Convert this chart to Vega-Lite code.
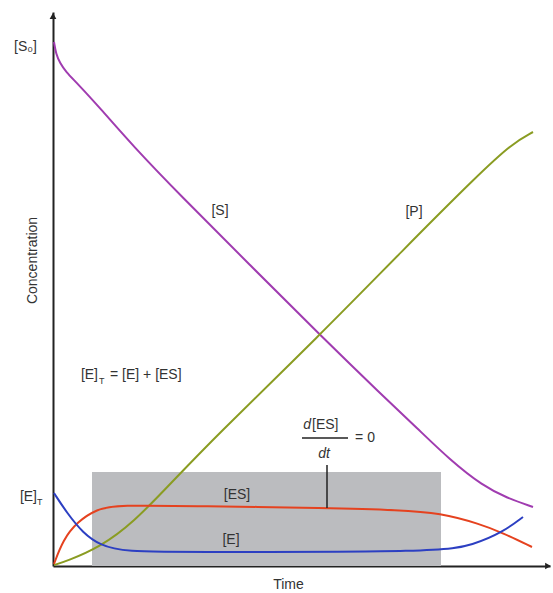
{
  "$schema": "https://vega.github.io/schema/vega-lite/v6.json",
  "width": 497,
  "height": 554,
  "autosize": {"type": "none"},
  "padding": {"left": 53, "top": 12, "right": 3, "bottom": 27},
  "background": "white",
  "config": {
    "view": {"stroke": null},
    "font": "Liberation Sans",
    "axis": {
      "ticks": false,
      "labels": false,
      "grid": false,
      "domainColor": "#222222",
      "domainWidth": 2,
      "titleFont": "Liberation Sans",
      "titleFontSize": 14,
      "titleFontWeight": "normal",
      "titleColor": "#333333"
    },
    "text": {"font": "Liberation Sans", "fontSize": 14, "color": "#333333"}
  },
  "datasets": {
    "curves": [
      {"series": "S", "t": 1, "c": 524},
      {"series": "S", "t": 3, "c": 512},
      {"series": "S", "t": 7, "c": 503},
      {"series": "S", "t": 13, "c": 494},
      {"series": "S", "t": 24, "c": 483},
      {"series": "S", "t": 47, "c": 458},
      {"series": "S", "t": 80, "c": 420},
      {"series": "S", "t": 127, "c": 371},
      {"series": "S", "t": 197, "c": 301},
      {"series": "S", "t": 267, "c": 231},
      {"series": "S", "t": 330, "c": 170},
      {"series": "S", "t": 364, "c": 138},
      {"series": "S", "t": 397, "c": 106},
      {"series": "S", "t": 430, "c": 80},
      {"series": "S", "t": 454, "c": 68},
      {"series": "S", "t": 480, "c": 59},
      {"series": "P", "t": 1, "c": 1},
      {"series": "P", "t": 14, "c": 5},
      {"series": "P", "t": 47, "c": 19},
      {"series": "P", "t": 80, "c": 43},
      {"series": "P", "t": 120, "c": 85},
      {"series": "P", "t": 160, "c": 127},
      {"series": "P", "t": 267, "c": 231},
      {"series": "P", "t": 350, "c": 316},
      {"series": "P", "t": 427, "c": 393},
      {"series": "P", "t": 460, "c": 423},
      {"series": "P", "t": 480, "c": 434},
      {"series": "ES", "t": 1, "c": 2},
      {"series": "ES", "t": 10, "c": 26},
      {"series": "ES", "t": 24, "c": 44},
      {"series": "ES", "t": 44, "c": 57},
      {"series": "ES", "t": 64, "c": 61},
      {"series": "ES", "t": 147, "c": 60},
      {"series": "ES", "t": 274, "c": 58},
      {"series": "ES", "t": 347, "c": 56},
      {"series": "ES", "t": 387, "c": 53},
      {"series": "ES", "t": 427, "c": 42},
      {"series": "ES", "t": 450, "c": 33},
      {"series": "ES", "t": 479, "c": 19},
      {"series": "E", "t": 1, "c": 73},
      {"series": "E", "t": 14, "c": 53},
      {"series": "E", "t": 30, "c": 33},
      {"series": "E", "t": 47, "c": 21},
      {"series": "E", "t": 70, "c": 14},
      {"series": "E", "t": 147, "c": 14},
      {"series": "E", "t": 387, "c": 14},
      {"series": "E", "t": 420, "c": 21},
      {"series": "E", "t": 450, "c": 34},
      {"series": "E", "t": 470, "c": 49}
    ],
    "labels": [
      {"t": 167, "c": 355, "label": "[S]"},
      {"t": 361, "c": 354, "label": "[P]"},
      {"t": 184, "c": 71, "label": "[ES]"},
      {"t": 178, "c": 26, "label": "[E]"},
      {"t": 312, "c": 128, "label": "= 0"}
    ]
  },
  "layer": [
    {
      "data": {"values": [{"t0": 39, "t1": 388, "c0": 0, "c1": 94}]},
      "mark": {"type": "rect", "fill": "#bbbcbf"},
      "encoding": {
        "x": {
          "field": "t0", "type": "quantitative",
          "scale": {"domain": [0, 497], "nice": false, "zero": false},
          "axis": {"title": "Time", "titleX": 235, "titleY": 18, "titleBaseline": "middle", "titleAlign": "center"}
        },
        "x2": {"field": "t1"},
        "y": {
          "field": "c0", "type": "quantitative",
          "scale": {"domain": [0, 554], "nice": false, "zero": false},
          "axis": {"title": "Concentration", "titleX": -21, "titleY": 248, "titleAngle": 270, "titleBaseline": "middle", "titleAlign": "center"}
        },
        "y2": {"field": "c1"}
      }
    },
    {
      "data": {"name": "curves"},
      "mark": {"type": "line", "strokeWidth": 2, "interpolate": "basis"},
      "encoding": {
        "x": {"field": "t", "type": "quantitative", "scale": {"domain": [0, 497], "nice": false, "zero": false}, "title": "Time"},
        "y": {"field": "c", "type": "quantitative", "scale": {"domain": [0, 554], "nice": false, "zero": false}, "title": "Concentration"},
        "color": {
          "field": "series", "type": "nominal", "legend": null,
          "scale": {"domain": ["S", "P", "ES", "E"], "range": ["#a03cb0", "#8a9c22", "#e5421f", "#2c3fc2"]}
        }
      }
    },
    {
      "data": {"values": [{"t0": 249, "t1": 295, "c0": 128, "c1": 128}, {"t0": 274, "t1": 274, "c0": 58, "c1": 101}]},
      "mark": {"type": "rule", "color": "#222222", "strokeWidth": 1.5},
      "encoding": {
        "x": {"field": "t0", "type": "quantitative", "title": "Time"},
        "x2": {"field": "t1"},
        "y": {"field": "c0", "type": "quantitative", "title": "Concentration"},
        "y2": {"field": "c1"}
      }
    },
    {
      "data": {"name": "labels"},
      "mark": {"type": "text", "align": "center", "baseline": "middle"},
      "encoding": {
        "x": {"field": "t", "type": "quantitative", "title": "Time"},
        "y": {"field": "c", "type": "quantitative", "title": "Concentration"},
        "text": {"field": "label"}
      }
    },
    {
      "data": {"values": [{"t": 258, "c": 141, "label": "d"}]},
      "mark": {"type": "text", "align": "right", "baseline": "middle", "fontStyle": "italic"},
      "encoding": {
        "x": {"field": "t", "type": "quantitative", "title": "Time"},
        "y": {"field": "c", "type": "quantitative", "title": "Concentration"},
        "text": {"field": "label"}
      }
    },
    {
      "data": {"values": [{"t": 259, "c": 141, "label": "[ES]"}]},
      "mark": {"type": "text", "align": "left", "baseline": "middle"},
      "encoding": {
        "x": {"field": "t", "type": "quantitative", "title": "Time"},
        "y": {"field": "c", "type": "quantitative", "title": "Concentration"},
        "text": {"field": "label"}
      }
    },
    {
      "data": {"values": [{"t": 271, "c": 112, "label": "dt"}]},
      "mark": {"type": "text", "align": "center", "baseline": "middle", "fontStyle": "italic"},
      "encoding": {
        "x": {"field": "t", "type": "quantitative", "title": "Time"},
        "y": {"field": "c", "type": "quantitative", "title": "Concentration"},
        "text": {"field": "label"}
      }
    },
    {
      "data": {"values": [{"t": 45, "c": 191, "label": "[E]"}]},
      "mark": {"type": "text", "align": "right", "baseline": "middle"},
      "encoding": {
        "x": {"field": "t", "type": "quantitative", "title": "Time"},
        "y": {"field": "c", "type": "quantitative", "title": "Concentration"},
        "text": {"field": "label"}
      }
    },
    {
      "data": {"values": [{"t": 57, "c": 191, "label": "= [E] + [ES]"}]},
      "mark": {"type": "text", "align": "left", "baseline": "middle"},
      "encoding": {
        "x": {"field": "t", "type": "quantitative", "title": "Time"},
        "y": {"field": "c", "type": "quantitative", "title": "Concentration"},
        "text": {"field": "label"}
      }
    },
    {
      "data": {"values": [{"t": 46, "c": 185, "label": "T"}]},
      "mark": {"type": "text", "align": "left", "baseline": "middle", "fontSize": 9},
      "encoding": {
        "x": {"field": "t", "type": "quantitative", "title": "Time"},
        "y": {"field": "c", "type": "quantitative", "title": "Concentration"},
        "text": {"field": "label"}
      }
    },
    {
      "data": {"values": [{"t": 0, "c": 519, "label": "[S₀]"}, {"t": 0, "c": 69, "label": "[E]"}]},
      "mark": {"type": "text", "align": "right", "baseline": "middle", "dx": -16},
      "encoding": {
        "x": {"field": "t", "type": "quantitative", "title": "Time"},
        "y": {"field": "c", "type": "quantitative", "title": "Concentration"},
        "text": {"field": "label"}
      }
    },
    {
      "data": {"values": [{"t": 0, "c": 64, "label": "T"}]},
      "mark": {"type": "text", "align": "left", "baseline": "middle", "fontSize": 9, "dx": -16},
      "encoding": {
        "x": {"field": "t", "type": "quantitative", "title": "Time"},
        "y": {"field": "c", "type": "quantitative", "title": "Concentration"},
        "text": {"field": "label"}
      }
    },
    {
      "data": {"values": [{"t": 0, "c": 550, "shape": "triangle-up"}, {"t": 495, "c": 0, "shape": "triangle-right"}]},
      "mark": {"type": "point", "filled": true, "color": "#222222", "size": 45, "opacity": 1},
      "encoding": {
        "x": {"field": "t", "type": "quantitative", "title": "Time"},
        "y": {"field": "c", "type": "quantitative", "title": "Concentration"},
        "shape": {"field": "shape", "type": "nominal", "scale": null, "legend": null}
      }
    }
  ]
}
